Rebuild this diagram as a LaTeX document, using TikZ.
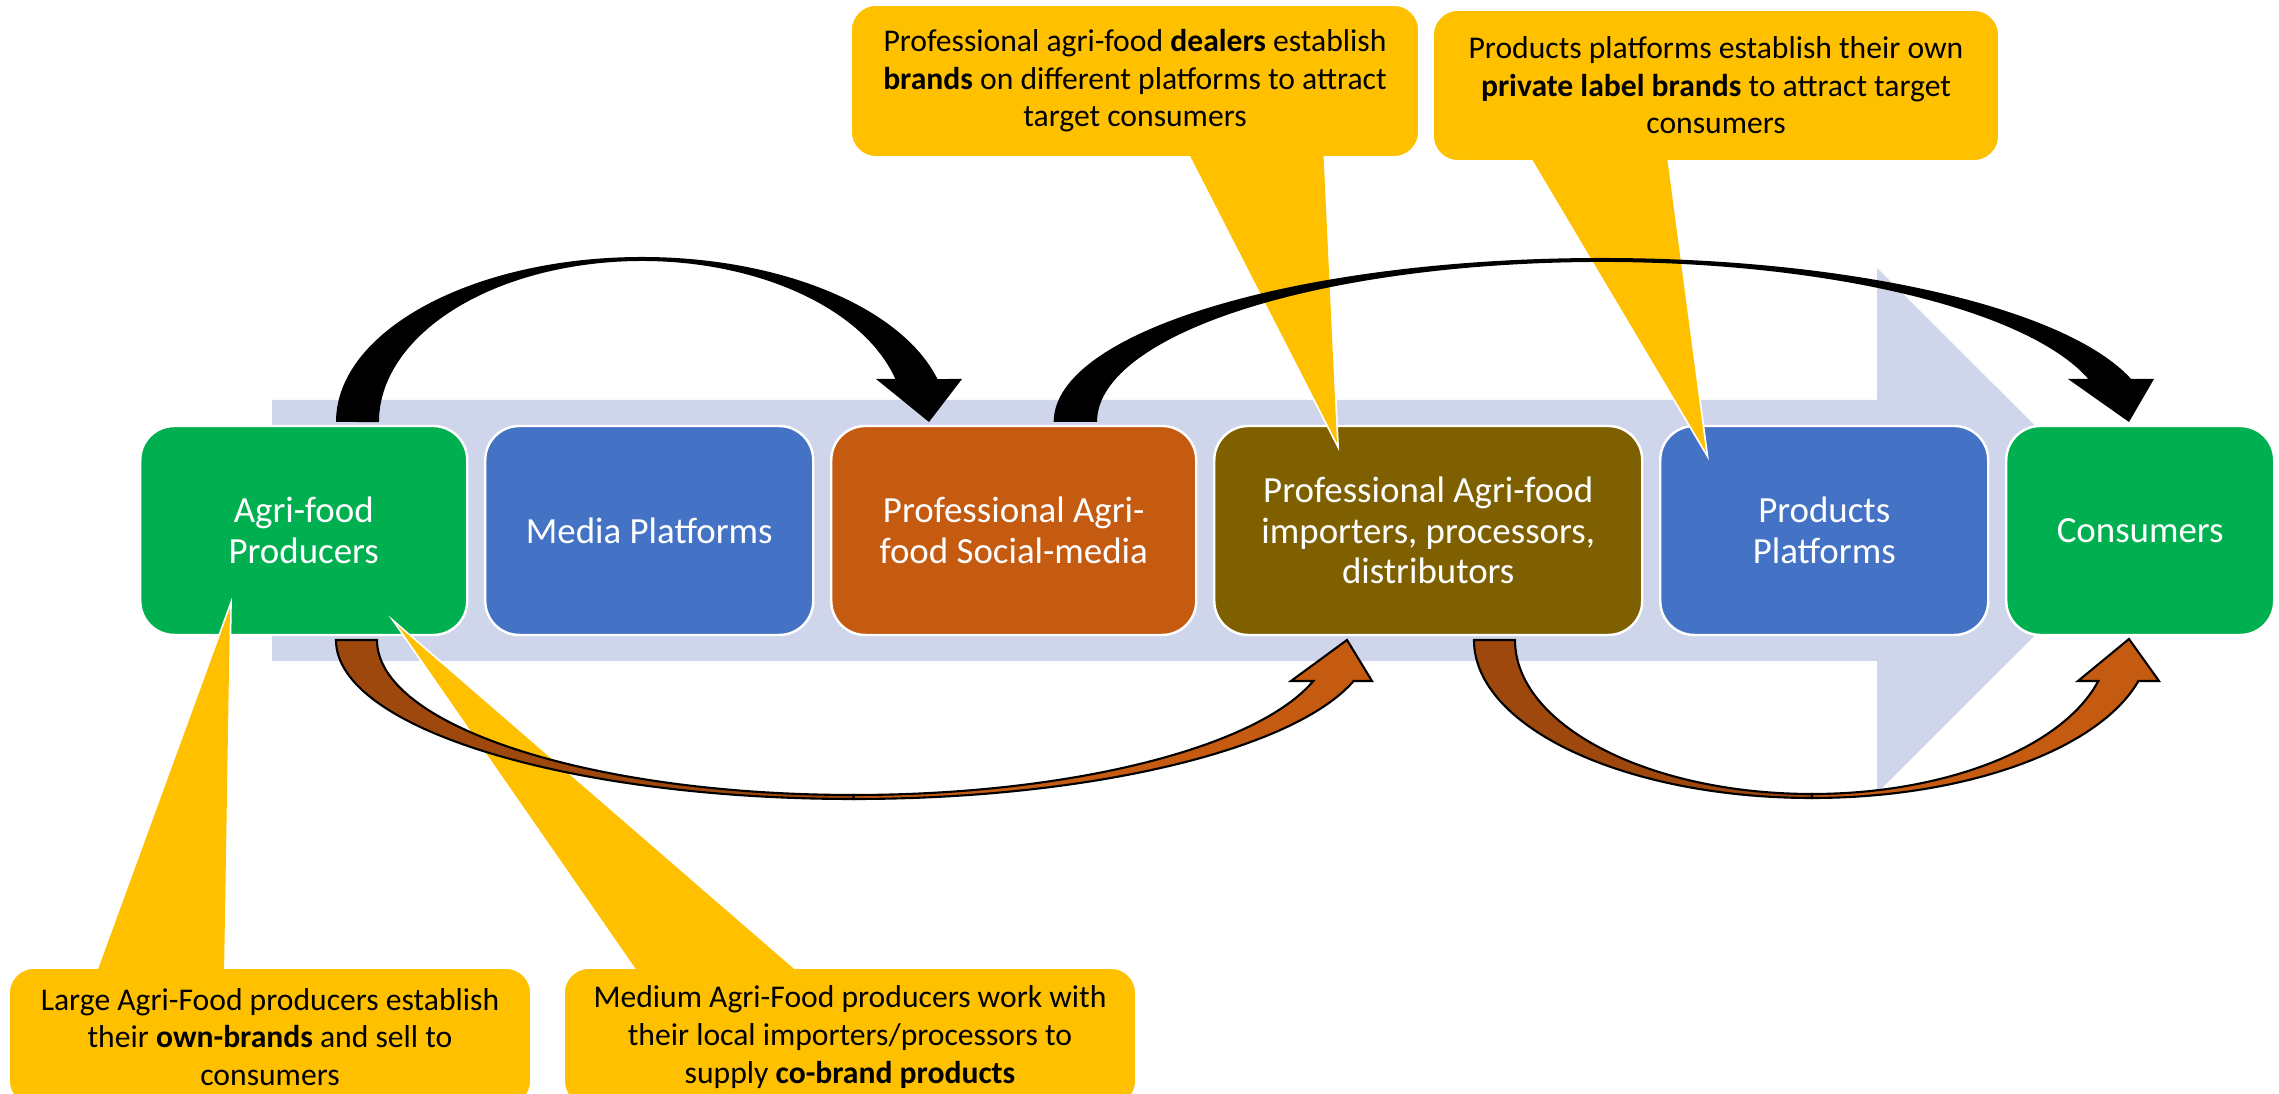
\documentclass[tikz,border=0pt]{standalone}
\usepackage{fontspec}
\setmainfont{Carlito}
\definecolor{flowgrey}{RGB}{207,213,234}
\definecolor{leafgreen}{RGB}{0,176,80}
\definecolor{mediablue}{RGB}{68,114,196}
\definecolor{rustorange}{RGB}{197,90,17}
\definecolor{olivebrown}{RGB}{127,96,0}
\definecolor{notegold}{RGB}{255,192,0}
\definecolor{darkrust}{RGB}{158,72,14}
\newcommand{\boxfont}{\fontsize{10.5}{11.5}\selectfont}
\newcommand{\notefont}{\fontsize{9}{10.7}\selectfont}
\tikzstyle{box} = [rounded corners=0.34cm, draw=white, line width=0.7pt, text=white, minimum height=2.09cm, align=center, anchor=west, font=\boxfont]
\tikzstyle{note} = [rounded corners=0.25cm, fill=notegold, draw=white, line width=0.5pt, align=center, font=\notefont]
\tikzstyle{pointer} = [fill=notegold, draw=white, line width=1pt]
\tikzstyle{overarc} = [fill=black]
\tikzstyle{swoop} = [draw=black, line width=0.6pt]
\newcommand{\dealersnote}{%
Professional agri-food \textbf{dealers} establish\\
\textbf{brands} on different platforms to attract\\
target consumers}
\newcommand{\privatenote}{%
Products platforms establish their own\\
\textbf{private label brands} to attract target\\
consumers}
\newcommand{\largenote}{%
Large Agri-Food producers establish\\
their \textbf{own-brands} and sell to\\
consumers}
\newcommand{\mediumnote}{%
Medium Agri-Food producers work with\\
their local importers/processors to\\
supply \textbf{co-brand products}}
\begin{document}
\begin{tikzpicture}
        \useasboundingbox (0,0) rectangle (22.79,10.94);
        % flow arrow behind the chain
        \fill[flowgrey] (2.72,6.94) -- (18.77,6.94) -- (18.77,8.26) -- (21.40,5.635) -- (18.77,3.01) -- (18.77,4.33) -- (2.72,4.33) -- cycle;
        
        \node[box, fill=leafgreen, minimum width=3.27cm] (producers) at (1.39,5.635) {Agri-food\\ Producers};
        \node[box, fill=mediablue, minimum width=3.28cm] (media) at (4.84,5.635) {Media Platforms};
        \node[box, fill=rustorange, minimum width=3.65cm] (social) at (8.30,5.635) {Professional Agri-\\ food Social-media};
        \node[box, fill=olivebrown, minimum width=4.28cm] (importers) at (12.13,5.635) {Professional Agri-food\\ importers, processors,\\ distributors};
        \node[box, fill=mediablue, minimum width=3.28cm] (platforms) at (16.59,5.635) {Products\\ Platforms};
        \node[box, fill=leafgreen, minimum width=2.68cm] (consumers) at (20.05,5.635) {Consumers};
        
        % callouts
        \draw[pointer] (11.84,9.50) -- (13.37,6.51) -- (13.23,9.50) -- cycle;
        \draw[pointer] (15.26,9.45) -- (17.06,6.42) -- (16.66,9.45) -- cycle;
        \draw[pointer] (0.96,1.19) -- (2.30,4.86) -- (2.24,1.19) -- cycle;
        \draw[pointer] (6.40,1.19) -- (3.98,4.68) -- (8.01,1.19) -- cycle;
        
        \node[note, minimum width=5.68cm, minimum height=1.52cm] (dealernote) at (11.35,10.13) {\dealersnote};
        \node[note, minimum width=5.66cm, minimum height=1.51cm] (privatenote) at (17.16,10.085) {\privatenote};
        \node[note, minimum width=5.22cm, minimum height=1.38cm] (largenote) at (2.70,0.57) {\largenote};
        \node[note, minimum width=5.72cm, minimum height=1.38cm] (mediumnote) at (8.50,0.57) {\mediumnote};
        
        \fill[notegold] (11.84,9.50) -- (13.37,6.51) -- (13.23,9.50) -- cycle;
        \fill[notegold] (15.26,9.45) -- (17.06,6.42) -- (16.66,9.45) -- cycle;
        \fill[notegold] (0.96,1.19) -- (2.30,4.86) -- (2.24,1.19) -- cycle;
        \fill[notegold] (6.40,1.19) -- (3.98,4.68) -- (8.01,1.19) -- cycle;
        
        % arrows over the chain
        \fill[overarc] (3.36,6.72) arc[start angle=180, end angle=15.1, x radius=3.06cm, y radius=1.65cm] -- (9.62,7.15) -- (9.29,6.72) -- (8.76,7.15) -- (8.954,7.15) arc[start angle=15.5, end angle=180, x radius=2.63cm, y radius=1.61cm] -- cycle;
        \fill[overarc] (10.537,6.72) arc[start angle=180, end angle=15.2, x radius=5.483cm, y radius=1.64cm] -- (21.54,7.15) -- (21.29,6.72) -- (20.68,7.15) -- (20.884,7.15) arc[start angle=15.59, end angle=180, x radius=5.05cm, y radius=1.60cm] -- cycle;
        
        % arrows under the chain
        \filldraw[swoop, fill=darkrust] (3.36,4.54) arc[start angle=180, end angle=270, x radius=5.176cm, y radius=1.59cm] -- (8.536,2.99) arc[start angle=270, end angle=180, x radius=4.766cm, y radius=1.55cm] -- cycle;
        \filldraw[swoop, fill=rustorange] (8.536,2.95) arc[start angle=270, end angle=345.06, x radius=5.176cm, y radius=1.59cm] -- (13.72,4.13) -- (13.47,4.54) -- (12.91,4.13) -- (13.133,4.13) arc[start angle=344.66, end angle=270, x radius=4.766cm, y radius=1.55cm] -- cycle;
        \filldraw[swoop, fill=darkrust] (14.74,4.54) arc[start angle=180, end angle=270, x radius=3.38cm, y radius=1.58cm] -- (18.12,3.00) arc[start angle=270, end angle=180, x radius=2.97cm, y radius=1.54cm] -- cycle;
        \filldraw[swoop, fill=rustorange] (18.12,2.96) arc[start angle=270, end angle=344.96, x radius=3.38cm, y radius=1.58cm] -- (21.59,4.13) -- (21.29,4.55) -- (20.78,4.13) -- (20.983,4.13) arc[start angle=344.56, end angle=270, x radius=2.97cm, y radius=1.54cm] -- cycle;
    \end{tikzpicture}
\end{document}
